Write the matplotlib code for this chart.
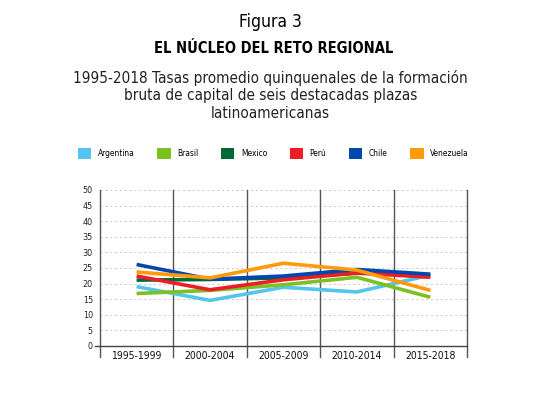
import matplotlib
matplotlib.use("Agg")
import matplotlib.pyplot as plt
from matplotlib.patches import Patch

plt.rcParams['font.family'] = ['DejaVu Sans']
plt.rcParams['font.stretch'] = 'condensed'

periods = ["1995-1999", "2000-2004", "2005-2009", "2010-2014", "2015-2018"]
countries = ["Argentina", "Brasil", "Mexico", "Perú", "Chile", "Venezuela"]
colors = ["#55c5f0", "#7cc11f", "#006a37", "#ee1c25", "#0047b0", "#ff9a0a"]

argentina = [19.0, 14.6, 18.8, 17.3, 22.7]
brasil = [16.8, 17.8, 19.6, 22.0, 15.6]
mexico = [21.1, 21.3, 21.8, 23.3, 22.8]
peru = [22.4, 18.0, 21.2, 23.4, 22.0]
chile = [26.1, 21.4, 22.4, 24.5, 23.0]
venezuela = [23.7, 21.8, 26.5, 24.3, 17.8]
series = [argentina, brasil, mexico, peru, chile, venezuela]

yticks = list(range(0, 55, 5))

fig = plt.figure(figsize=(5.58, 3.94), dpi=100)
ax = fig.add_axes([0.179, 0.122, 0.658, 0.396])

xs = [i + 0.5 for i in range(len(periods))]
for name, vals, c in zip(countries, series, colors):
    ax.plot(xs, vals, color=c, lw=2.6, solid_capstyle='butt', zorder=3)

ax.set_xlim(0, len(periods))
ax.set_ylim(0, 50)
ax.set_yticks(yticks)
ax.set_yticklabels([str(t) for t in yticks], fontsize=6.5, color="#222222")
for t in yticks[1:]:
    ax.axhline(t, color="#c8c8c8", lw=0.7, ls=(0, (2, 3)), zorder=1)

# category separators running down through the label row
for i in range(len(periods) + 1):
    ax.plot([i, i], [50, -3.4], color="#555555", lw=1.0, clip_on=False, zorder=2)
ax.plot([-0.07, len(periods)], [0, 0], color="#444444", lw=1.0, clip_on=False, zorder=2)

ax.set_xticks(xs)
ax.set_xticklabels(periods, fontsize=7.5, color="#111111")
ax.tick_params(axis='x', length=0, pad=4)
ax.tick_params(axis='y', length=0, pad=5)
for s in ax.spines.values():
    s.set_visible(False)

fig.text(0.485, 0.945, "Figura 3", ha='center', va='center', fontsize=12.5)
fig.text(0.49, 0.878, "EL NÚCLEO DEL RETO REGIONAL", ha='center', va='center',
         fontsize=10.5, fontweight='bold')
fig.text(0.485, 0.758, "1995-2018 Tasas promedio quinquenales de la formación\n"
         "bruta de capital de seis destacadas plazas\nlatinoamericanas",
         ha='center', va='center', fontsize=11, linespacing=1.22, color="#222222")

handles = [Patch(facecolor=c, edgecolor='none') for c in colors]
fig.legend(handles, countries, loc='center', ncol=6, bbox_to_anchor=(0.49, 0.61),
           frameon=False, fontsize=6, handlelength=1.6, handleheight=1.6,
           columnspacing=2.7, handletextpad=0.8)

fig.savefig("out.png", dpi=100, facecolor='white')
